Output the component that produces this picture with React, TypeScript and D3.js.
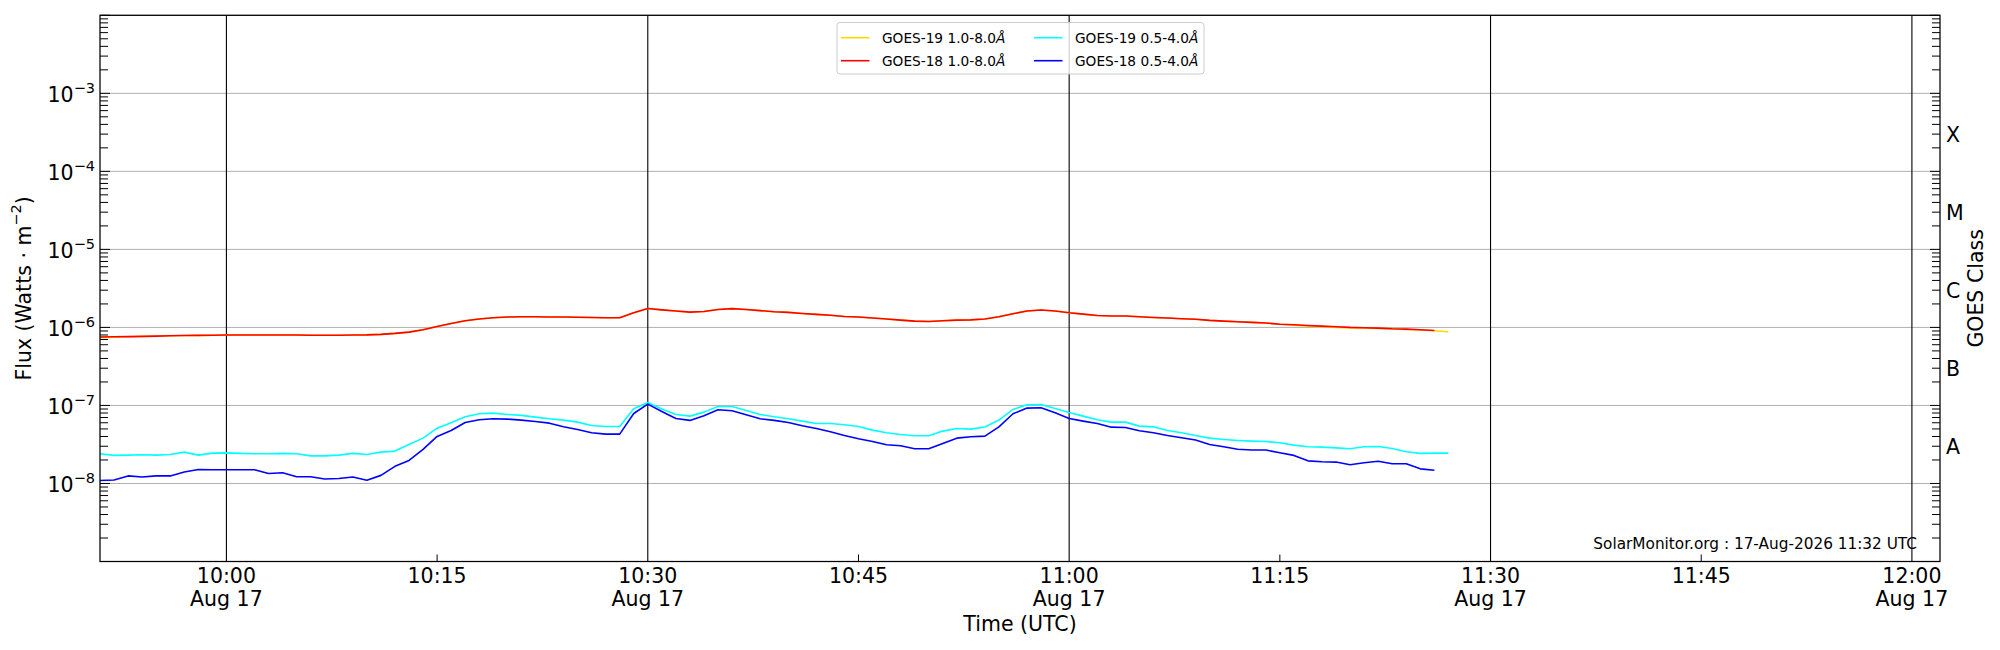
import React, { useEffect, useRef } from 'react';
import * as d3 from 'd3';

// one sample per minute, starting at the left edge of the plot
const startTime = Date.UTC(2026, 7, 17, 9, 51);
const endTime = Date.UTC(2026, 7, 17, 12, 2);

// GOES-19 1.0-8.0 A (gold, mostly hidden under red)
const goes19Long = [
  7.40e-7, 7.50e-7, 7.58e-7, 7.64e-7, 7.72e-7, 7.82e-7, 7.86e-7, 7.90e-7, 7.94e-7,
  7.98e-7, 7.98e-7, 7.98e-7, 7.98e-7, 7.98e-7, 7.98e-7, 7.94e-7, 7.94e-7, 7.94e-7, 7.98e-7,
  8.02e-7, 8.14e-7, 8.38e-7, 8.71e-7, 9.33e-7, 1.03e-6, 1.125e-6, 1.22e-6, 1.28e-6, 1.33e-6,
  1.36e-6, 1.37e-6, 1.37e-6, 1.36e-6, 1.36e-6, 1.35e-6, 1.34e-6, 1.33e-6, 1.33e-6, 1.54e-6,
  1.75e-6, 1.68e-6, 1.62e-6, 1.57e-6, 1.60e-6, 1.70e-6, 1.74e-6, 1.70e-6, 1.64e-6, 1.59e-6,
  1.56e-6, 1.51e-6, 1.47e-6, 1.43e-6, 1.38e-6, 1.36e-6, 1.32e-6, 1.28e-6, 1.24e-6, 1.205e-6,
  1.19e-6, 1.22e-6, 1.24e-6, 1.25e-6, 1.28e-6, 1.37e-6, 1.50e-6, 1.62e-6, 1.67e-6, 1.62e-6,
  1.54e-6, 1.48e-6, 1.42e-6, 1.40e-6, 1.40e-6, 1.37e-6, 1.34e-6, 1.32e-6, 1.29e-6, 1.27e-6,
  1.23e-6, 1.205e-6, 1.18e-6, 1.16e-6, 1.14e-6, 1.10e-6, 1.07e-6, 1.04e-6, 1.02e-6, 1.00e-6,
  9.85e-7, 9.75e-7, 9.68e-7, 9.55e-7, 9.42e-7, 9.25e-7, 9.05e-7, 8.80e-7,
];

// GOES-18 1.0-8.0 A (red)
const goes18Long = [
  7.52e-7, 7.59e-7, 7.63e-7, 7.67e-7, 7.74e-7, 7.82e-7, 7.86e-7, 7.90e-7, 7.94e-7,
  7.98e-7, 7.98e-7, 7.98e-7, 7.98e-7, 7.98e-7, 7.98e-7, 7.94e-7, 7.94e-7, 7.94e-7, 7.98e-7,
  8.02e-7, 8.14e-7, 8.38e-7, 8.71e-7, 9.33e-7, 1.03e-6, 1.125e-6, 1.22e-6, 1.28e-6, 1.33e-6,
  1.36e-6, 1.37e-6, 1.37e-6, 1.36e-6, 1.36e-6, 1.35e-6, 1.34e-6, 1.33e-6, 1.33e-6, 1.54e-6,
  1.75e-6, 1.68e-6, 1.62e-6, 1.57e-6, 1.60e-6, 1.70e-6, 1.74e-6, 1.70e-6, 1.64e-6, 1.59e-6,
  1.56e-6, 1.51e-6, 1.47e-6, 1.43e-6, 1.38e-6, 1.36e-6, 1.32e-6, 1.28e-6, 1.24e-6, 1.205e-6,
  1.19e-6, 1.22e-6, 1.24e-6, 1.25e-6, 1.28e-6, 1.37e-6, 1.50e-6, 1.62e-6, 1.67e-6, 1.62e-6,
  1.54e-6, 1.48e-6, 1.42e-6, 1.40e-6, 1.40e-6, 1.37e-6, 1.34e-6, 1.32e-6, 1.29e-6, 1.27e-6,
  1.23e-6, 1.205e-6, 1.18e-6, 1.16e-6, 1.14e-6, 1.10e-6, 1.08e-6, 1.06e-6, 1.04e-6, 1.02e-6,
  1.00e-6, 9.90e-7, 9.80e-7, 9.61e-7, 9.52e-7, 9.33e-7, 9.15e-7,
];

// GOES-19 0.5-4.0 A (cyan)
const goes19Short = [
  2.40e-8, 2.29e-8, 2.31e-8, 2.33e-8, 2.31e-8, 2.35e-8, 2.52e-8, 2.31e-8, 2.45e-8,
  2.47e-8, 2.43e-8, 2.40e-8, 2.40e-8, 2.43e-8, 2.40e-8, 2.26e-8, 2.26e-8, 2.31e-8, 2.43e-8,
  2.35e-8, 2.52e-8, 2.60e-8, 3.16e-8, 3.81e-8, 5.12e-8, 6.0e-8, 7.16e-8, 7.82e-8, 7.98e-8,
  7.67e-8, 7.45e-8, 7.09e-8, 6.75e-8, 6.49e-8, 6.11e-8, 5.54e-8, 5.38e-8, 5.38e-8, 9.06e-8,
  1.093e-7, 8.98e-8, 7.67e-8, 7.30e-8, 8.21e-8, 9.71e-8, 9.71e-8, 8.63e-8, 7.67e-8, 7.16e-8,
  6.75e-8, 6.30e-8, 5.88e-8, 5.88e-8, 5.65e-8, 5.38e-8, 4.83e-8, 4.47e-8, 4.25e-8, 4.08e-8,
  4.08e-8, 4.69e-8, 5.07e-8, 4.97e-8, 5.30e-8, 6.49e-8, 8.89e-8, 1.02e-7, 1.03e-7, 9.15e-8,
  8.13e-8, 7.30e-8, 6.55e-8, 6.11e-8, 6.11e-8, 5.43e-8, 5.32e-8, 4.78e-8, 4.47e-8, 4.12e-8,
  3.81e-8, 3.66e-8, 3.56e-8, 3.49e-8, 3.45e-8, 3.32e-8, 3.10e-8, 2.95e-8, 2.92e-8, 2.86e-8,
  2.78e-8, 2.95e-8, 2.98e-8, 2.81e-8, 2.55e-8, 2.43e-8, 2.45e-8, 2.45e-8,
];

// GOES-18 0.5-4.0 A (blue)
const goes18Short = [
  1.09e-8, 1.11e-8, 1.25e-8, 1.21e-8, 1.25e-8, 1.25e-8, 1.40e-8, 1.51e-8, 1.50e-8,
  1.50e-8, 1.50e-8, 1.50e-8, 1.34e-8, 1.37e-8, 1.22e-8, 1.22e-8, 1.14e-8, 1.16e-8, 1.21e-8,
  1.10e-8, 1.27e-8, 1.66e-8, 1.97e-8, 2.73e-8, 4.01e-8, 4.78e-8, 6.05e-8, 6.55e-8, 6.75e-8,
  6.68e-8, 6.49e-8, 6.24e-8, 5.93e-8, 5.32e-8, 4.92e-8, 4.47e-8, 4.29e-8, 4.29e-8, 7.89e-8,
  1.04e-7, 8.38e-8, 6.81e-8, 6.43e-8, 7.37e-8, 8.80e-8, 8.54e-8, 7.59e-8, 6.75e-8, 6.43e-8,
  6.05e-8, 5.48e-8, 5.07e-8, 4.60e-8, 4.12e-8, 3.74e-8, 3.45e-8, 3.13e-8, 3.04e-8, 2.78e-8,
  2.78e-8, 3.26e-8, 3.81e-8, 3.97e-8, 4.04e-8, 5.32e-8, 7.82e-8, 9.25e-8, 9.34e-8, 8.05e-8,
  6.81e-8, 6.30e-8, 5.88e-8, 5.27e-8, 5.22e-8, 4.73e-8, 4.47e-8, 4.12e-8, 3.85e-8, 3.60e-8,
  3.16e-8, 2.95e-8, 2.75e-8, 2.68e-8, 2.68e-8, 2.47e-8, 2.29e-8, 1.95e-8, 1.90e-8, 1.88e-8,
  1.74e-8, 1.84e-8, 1.93e-8, 1.79e-8, 1.79e-8, 1.54e-8, 1.48e-8,
];

const seriesLabels = ['GOES-19 1.0-8.0', 'GOES-18 1.0-8.0', 'GOES-19 0.5-4.0', 'GOES-18 0.5-4.0'];
const seriesColors = ['#ffd700', '#ff0000', '#00ffff', '#0000ff'];
const seriesData = [goes19Long, goes18Long, goes19Short, goes18Short];

const yTickExponents = [-3, -4, -5, -6, -7, -8];
const goesClasses = ['A', 'B', 'C', 'M', 'X'];
const watermark = 'SolarMonitor.org : 17-Aug-2026 11:32 UTC';

const FONT = 'DejaVu Sans, sans-serif';
const LABEL_SIZE = 20.5;

export default function App() {
  const svgRef = useRef<SVGSVGElement | null>(null);

  useEffect(() => {
    if (!svgRef.current) return;
    const svg = d3.select(svgRef.current);
    svg.selectAll('*').remove();

    const left = 100, right = 1940, top = 15.3, bottom = 561.5;

    const x = d3.scaleUtc().domain([new Date(startTime), new Date(endTime)]).range([left, right]);
    const y = d3.scaleLog().domain([1e-9, 1e-2]).range([bottom, top]);

    svg.append('rect').attr('width', 2000).attr('height', 650).attr('fill', '#ffffff');

    svg.append('defs').append('clipPath').attr('id', 'plot-clip')
      .append('rect').attr('x', left).attr('y', top).attr('width', right - left).attr('height', bottom - top);

    // horizontal grid at each decade
    const decades = d3.range(-9, -1).map((e) => Math.pow(10, e));
    svg.append('g').selectAll('line').data(decades).enter().append('line')
      .attr('x1', left).attr('x2', right)
      .attr('y1', (d) => y(d)).attr('y2', (d) => y(d))
      .attr('stroke', '#b0b0b0').attr('stroke-width', 1);

    // time ticks: major every 30 min (full black lines), minor at the quarter hours
    const allTicks = d3.utcMinute.every(15)!.range(new Date(startTime), new Date(endTime));
    const majorTicks = allTicks.filter((d) => d.getUTCMinutes() % 30 === 0);
    const minorTicks = allTicks.filter((d) => d.getUTCMinutes() % 30 !== 0);

    svg.append('g').selectAll('line').data(majorTicks).enter().append('line')
      .attr('x1', (d) => x(d)).attr('x2', (d) => x(d))
      .attr('y1', top).attr('y2', bottom)
      .attr('stroke', '#000').attr('stroke-width', 1.1);

    svg.append('g').selectAll('line').data(minorTicks).enter().append('line')
      .attr('x1', (d) => x(d)).attr('x2', (d) => x(d))
      .attr('y1', bottom).attr('y2', bottom - 7)
      .attr('stroke', '#000').attr('stroke-width', 1);

    const fmtTime = d3.utcFormat('%H:%M');
    const fmtDate = d3.utcFormat('%b %d');
    const xLabels = svg.append('g').attr('font-family', FONT).attr('font-size', LABEL_SIZE).attr('text-anchor', 'middle');
    allTicks.forEach((d) => {
      const t = xLabels.append('text').attr('x', x(d)).attr('y', 582.5);
      t.append('tspan').attr('x', x(d)).text(fmtTime(d));
      if (d.getUTCMinutes() % 30 === 0) {
        t.append('tspan').attr('x', x(d)).attr('dy', 23).text(fmtDate(d));
      }
    });

    // log ticks, left and right, pointing inside
    const minorVals: number[] = [];
    d3.range(-9, -2).forEach((e) => {
      d3.range(2, 10).forEach((k) => minorVals.push(k * Math.pow(10, e)));
    });
    const tickG = svg.append('g').attr('stroke', '#000').attr('stroke-width', 1);
    [left, right].forEach((sx) => {
      const dir = sx === left ? 1 : -1;
      tickG.append('g').selectAll('line').data(minorVals).enter().append('line')
        .attr('x1', sx).attr('x2', sx + dir * 8)
        .attr('y1', (d) => y(d)).attr('y2', (d) => y(d));
      tickG.append('g').selectAll('line').data(decades).enter().append('line')
        .attr('x1', sx).attr('x2', sx + dir * 10)
        .attr('y1', (d) => y(d)).attr('y2', (d) => y(d));
    });

    // data lines
    const plot = svg.append('g').attr('clip-path', 'url(#plot-clip)');
    seriesData.forEach((values, si) => {
      const line = d3.line<number>()
        .x((_, i) => x(new Date(startTime + i * 60000)))
        .y((d) => y(d));
      plot.append('path').datum(values)
        .attr('d', line)
        .attr('fill', 'none')
        .attr('stroke', seriesColors[si])
        .attr('stroke-width', 1.6)
        .attr('stroke-linejoin', 'round');
    });

    // y tick labels 10^n
    const yLabels = svg.append('g').attr('font-family', FONT).attr('text-anchor', 'end').attr('fill', '#000');
    yTickExponents.forEach((e) => {
      const yy = y(Math.pow(10, e));
      const t = yLabels.append('text').attr('x', 95).attr('y', yy + 9).attr('font-size', LABEL_SIZE);
      t.append('tspan').text('10');
      t.append('tspan').attr('dy', -9.5).attr('font-size', 14.5).text('\u2212' + Math.abs(e));
    });

    // GOES class labels on the right, between the decades
    const classPos = d3.range(-7.5, -3, 1).map((e) => Math.pow(10, e));
    svg.append('g').attr('font-family', FONT).attr('font-size', LABEL_SIZE)
      .selectAll('text').data(goesClasses).enter().append('text')
      .attr('x', 1946).attr('y', (_, i) => y(classPos[i]) + 3)
      .attr('dominant-baseline', 'central')
      .text((d) => d);

    // spines
    svg.append('rect')
      .attr('x', left).attr('y', top).attr('width', right - left).attr('height', bottom - top)
      .attr('fill', 'none').attr('stroke', '#000').attr('stroke-width', 1.25);

    // axis titles
    const yTitle = svg.append('text').attr('font-family', FONT).attr('font-size', LABEL_SIZE)
      .attr('text-anchor', 'middle').attr('dominant-baseline', 'central')
      .attr('transform', `translate(24, ${(top + bottom) / 2}) rotate(-90)`);
    yTitle.append('tspan').text('Flux (Watts \u00b7 m');
    yTitle.append('tspan').attr('dy', -8).attr('font-size', 14.5).text('\u22122');
    yTitle.append('tspan').attr('dy', 8).text(')');

    svg.append('text').attr('font-family', FONT).attr('font-size', LABEL_SIZE)
      .attr('text-anchor', 'middle').attr('dominant-baseline', 'central')
      .attr('transform', `translate(1976, ${(top + bottom) / 2}) rotate(-90)`)
      .text('GOES Class');

    svg.append('text').attr('font-family', FONT).attr('font-size', LABEL_SIZE)
      .attr('text-anchor', 'middle').attr('dominant-baseline', 'central')
      .attr('x', (left + right) / 2).attr('y', 624)
      .text('Time (UTC)');

    svg.append('text').attr('font-family', FONT).attr('font-size', 15.3)
      .attr('text-anchor', 'end').attr('x', 1917).attr('y', 549)
      .text(watermark);

    // legend, two columns
    const legend = svg.append('g').attr('font-family', FONT).attr('font-size', 13.7);
    legend.append('rect')
      .attr('x', 837).attr('y', 22.5).attr('width', 367).attr('height', 51.5).attr('rx', 3)
      .attr('fill', '#ffffff').attr('fill-opacity', 0.8)
      .attr('stroke', '#cccccc').attr('stroke-width', 1);
    seriesLabels.forEach((label, i) => {
      const col = Math.floor(i / 2);
      const row = i % 2;
      const lx = 841 + col * 193;
      const ly = 37.7 + row * 23;
      legend.append('line')
        .attr('x1', lx).attr('x2', lx + 28.5).attr('y1', ly).attr('y2', ly)
        .attr('stroke', seriesColors[i]).attr('stroke-width', 1.6);
      const t = legend.append('text').attr('x', lx + 41).attr('y', ly).attr('dominant-baseline', 'central');
      t.append('tspan').text(label);
      t.append('tspan').attr('font-style', 'italic').text('\u00c5');
    });
  }, []);

  return (
    <svg
      ref={svgRef}
      width={2000}
      height={650}
      style={{ position: 'absolute', left: 0, top: 0, display: 'block' }}
    />
  );
}
